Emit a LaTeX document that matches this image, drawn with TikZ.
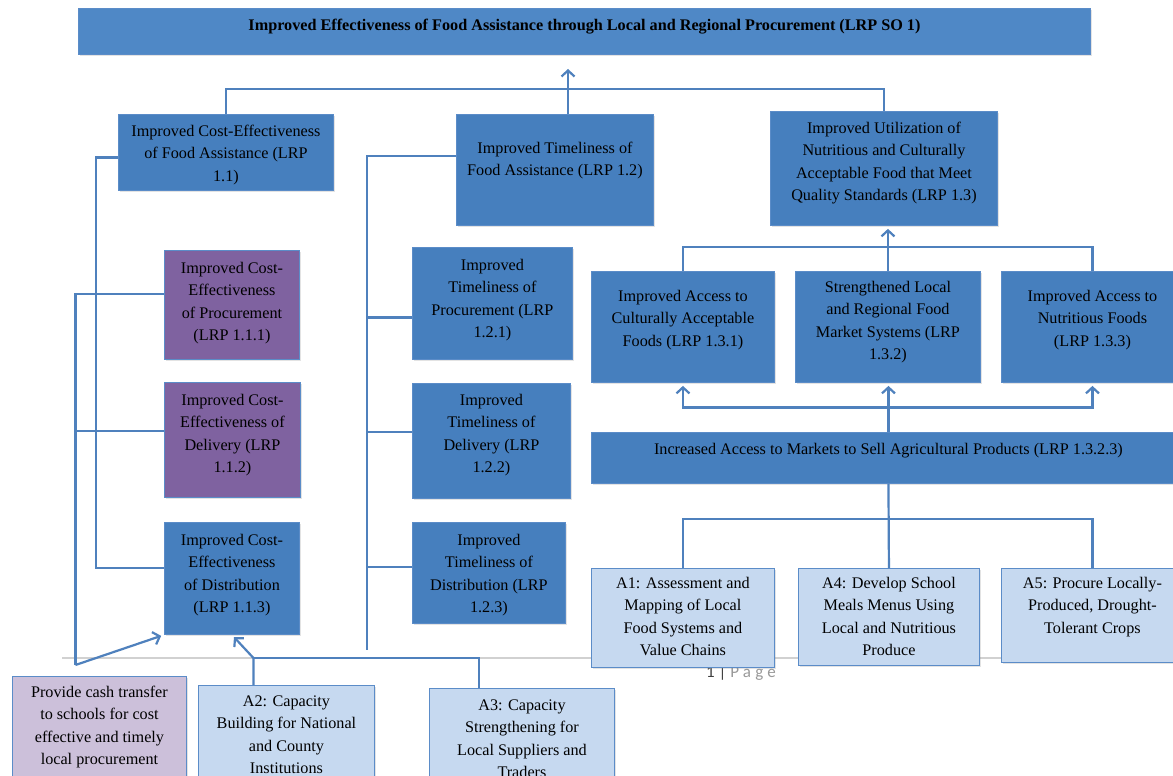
\documentclass[tikz,border=0pt]{standalone}
\usepackage{fontspec}
\setmainfont{Liberation Serif}
\newfontfamily\pagefont{Carlito}
\usepackage{tikz}
\usetikzlibrary{arrows.meta,positioning,calc,shadows}

\definecolor{barblue}{HTML}{4F88C6}
\definecolor{boxblue}{HTML}{467FBE}
\definecolor{boxpurple}{HTML}{7F62A0}
\definecolor{actblue}{HTML}{C6D9F0}
\definecolor{actlilac}{HTML}{CCC0DA}
\definecolor{edgeblue}{HTML}{5B8CC8}
\definecolor{linkblue}{HTML}{4F81BD}

\begin{document}
\begin{tikzpicture}[x=1pt, y=-1pt,
box/.style={anchor=north west, align=center, inner xsep=3pt, inner ysep=0pt,
  font=\fontsize{16.2}{22.5}\selectfont, draw=edgeblue, line width=0.9pt,
  drop shadow={shadow xshift=1.5pt, shadow yshift=-2pt, opacity=0.22}},
darkbox/.style={box, fill=boxblue},
purplebox/.style={box, fill=boxpurple},
actbox/.style={box, fill=actblue},
cashbox/.style={box, fill=actlilac},
link/.style={draw=linkblue, line width=2.2pt},
arr/.style={link, -{Straight Barb[length=6pt,width=13pt]}, shorten >=3pt},
arrs/.style={link, {Straight Barb[length=6pt,width=13pt]}-{Straight Barb[length=6pt,width=13pt]}, shorten >=3pt, shorten <=3pt},
]
\clip (0,0) rectangle (1173,776);
\fill[white] (0,0) rectangle (1173,776);

% page break of the source document
\draw[black!18, line width=1.3pt] (62,658) -- (1173,658);
\node[font=\pagefont\fontsize{17}{19}\selectfont, text=black!75] (pagenum) at (741,673)
  {1 | {\color{black!40}\addfontfeature{LetterSpace=25}Page}};

\node[box, fill=barblue, minimum width=1012, text height=22pt, text depth=24pt,
  font=\fontsize{16.2}{22.5}\selectfont\bfseries] (top) at (78,8)
  {Improved Effectiveness of Food Assistance through Local and Regional Procurement (LRP SO 1)};

\node[darkbox, minimum width=215, text height=67pt, text depth=9pt] (lrpA) at (118,114)
  {Improved Cost-Effectiveness\\of Food Assistance (LRP\\1.1)};
\node[darkbox, minimum width=197, text height=61.5pt, text depth=49.5pt] (lrpB) at (456,114)
  {Improved Timeliness of\\Food Assistance (LRP 1.2)};
\node[darkbox, minimum width=227, text height=89.5pt, text depth=24.5pt] (lrpC) at (770,111)
  {Improved Utilization of\\Nutritious and Culturally\\Acceptable Food that Meet\\Quality Standards (LRP 1.3)};

\node[purplebox, minimum width=135, text height=90.5pt, text depth=18.5pt] (pA) at (164,250)
  {Improved Cost-\\Effectiveness\\of Procurement\\(LRP 1.1.1)};
\node[purplebox, minimum width=136, text height=90.5pt, text depth=24.5pt] (pB) at (164,382)
  {Improved Cost-\\Effectiveness of\\Delivery (LRP\\1.1.2)};
\node[darkbox, minimum width=135, text height=90.5pt, text depth=21.5pt] (pC) at (164,522)
  {Improved Cost-\\Effectiveness\\of Distribution\\(LRP 1.1.3)};

\node[darkbox, minimum width=160, text height=90.5pt, text depth=21.5pt] (tA) at (412,247)
  {Improved\\Timeliness of\\Procurement (LRP\\1.2.1)};
\node[darkbox, minimum width=158, text height=89.5pt, text depth=25.5pt] (tB) at (412,383)
  {Improved\\Timeliness of\\Delivery (LRP\\1.2.2)};
\node[darkbox, minimum width=153, text height=90.5pt, text depth=10.5pt] (tC) at (412,522)
  {Improved\\Timeliness of\\Distribution (LRP\\1.2.3)};

\node[darkbox, minimum width=183, text height=75pt, text depth=36pt] (uA) at (591,271)
  {Improved Access to\\Culturally Acceptable\\Foods (LRP 1.3.1)};
\node[darkbox, minimum width=185, text height=88.5pt, text depth=22.5pt] (uB) at (795,271)
  {Strengthened Local\\and Regional Food\\Market Systems (LRP\\1.3.2)};
\node[darkbox, minimum width=182, text height=75pt, text depth=36pt] (uC) at (1001,271)
  {Improved Access to\\Nutritious Foods\\(LRP 1.3.3)};

\node[darkbox, minimum width=594, text height=22pt, text depth=29pt] (mkt) at (591,432)
  {Increased Access to Markets to Sell Agricultural Products (LRP 1.3.2.3)};

\node[actbox, minimum width=183, text height=87.5pt, text depth=11.5pt] (a1) at (591,568)
  {A1: Assessment and\\Mapping of Local\\Food Systems and\\Value Chains};
\node[actbox, minimum width=181, text height=87.5pt, text depth=9.5pt] (a4) at (798,568)
  {A4: Develop School\\Meals Menus Using\\Local and Nutritious\\Produce};
\node[actbox, minimum width=182, text height=65pt, text depth=29pt] (a5) at (1001,568)
  {A5: Procure Locally-\\Produced, Drought-\\Tolerant Crops};

\node[cashbox, minimum width=174, text height=88.5pt, text depth=32.5pt] (cash) at (12,676)
  {Provide cash transfer\\to schools for cost\\effective and timely\\local procurement};
\node[actbox, minimum width=176, text height=88.5pt, text depth=22.5pt] (a2) at (198,685)
  {A2: Capacity\\Building for National\\and County\\Institutions};
\node[actbox, minimum width=185, text height=89.5pt, text depth=20.5pt] (a3) at (429,688)
  {A3: Capacity\\Strengthening for\\Local Suppliers and\\Traders};

% upper level
\coordinate (goal) at (568,66);
\draw[link] (lrpA.north) -- ++(0,-25) -| (lrpC.north);
\draw[arr] (lrpB.north -| goal) -- (goal);

% cost-effectiveness side
\coordinate (busA) at (96,568);
\draw[link] ([yshift=-5pt]lrpA.west) -| (busA) -- (busA -| pC.west);
\coordinate (cashTop) at ([xshift=-24pt,yshift=11pt]cash.north);
\draw[link] (cashTop) |- ([yshift=11pt]pA.west);
\draw[link] ([yshift=9pt]pB.west) -- ([yshift=9pt]pB.west -| cashTop);
\draw[arr] (cashTop) -- (pC.south west);

% timeliness side
\coordinate (busB) at (367,650);
\draw[link] ([yshift=14pt]lrpB.west) -| (busB);
\foreach \n/\s in {tA/-14, tB/9, tC/6}
  \draw[link] ([yshift=\s pt]\n.west) -- ([yshift=\s pt]\n.west -| busB);

% utilization side
\draw[arr] (uB.north) -- (uB.north |- lrpC.south);
\draw[link] (uA.north) -- ++(0,-24) -| (uC.north);
\coordinate (jM) at ($(uB.south)!0.5!(mkt.north)$);
\draw[arr] (mkt.north) -- (mkt.north |- uB.south);
\draw[arrs] (uA.south) |- (jM) -| (uC.south);
\draw[link] (mkt.south) -- (a4.north);
\draw[link] (a1.north) -- ++(0,-49) -| (a5.north);

% capacity activities
\coordinate (jA) at ([xshift=-33pt,yshift=27pt]a2.north);
\draw[link] ([xshift=-43pt]a3.north) |- (jA);
\draw[arr] ([xshift=-33pt]a2.north) -- (jA) -- (pC.south);

%\draw[red] (0,0) -- (100,0);
\end{tikzpicture}
\end{document}
